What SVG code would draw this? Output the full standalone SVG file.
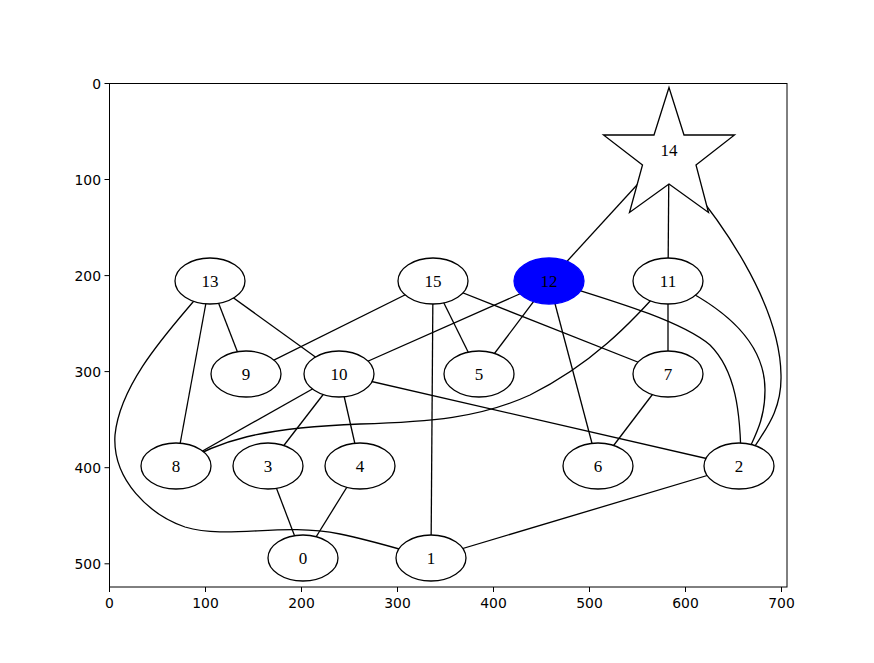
<svg xmlns="http://www.w3.org/2000/svg" width="874" height="663" viewBox="0 0 874 663">
<style>
.e{fill:none;stroke:#000;stroke-width:1.3}
.n{fill:#fff;stroke:#000;stroke-width:1.3}
.t{font-family:"Liberation Serif","Times New Roman",serif;font-size:17px;text-anchor:middle;fill:#000}
.ax{fill:none;stroke:#000;stroke-width:1}
.tk{stroke:#000;stroke-width:1}
.tl{font-family:"DejaVu Sans",sans-serif;font-size:13.9px;fill:#000}
</style>
<rect width="874" height="663" fill="#fff"/>
<g id="axes">
<rect class="ax" x="109.5" y="83.5" width="677.5" height="503.5"/>
<g id="xticks">
<line class="tk" x1="109.5" y1="587" x2="109.5" y2="592"/>
<line class="tk" x1="205.5" y1="587" x2="205.5" y2="592"/>
<line class="tk" x1="301.5" y1="587" x2="301.5" y2="592"/>
<line class="tk" x1="397.5" y1="587" x2="397.5" y2="592"/>
<line class="tk" x1="493.5" y1="587" x2="493.5" y2="592"/>
<line class="tk" x1="589.5" y1="587" x2="589.5" y2="592"/>
<line class="tk" x1="685.5" y1="587" x2="685.5" y2="592"/>
<line class="tk" x1="781.5" y1="587" x2="781.5" y2="592"/>
<g class="tl" text-anchor="middle">
<text x="109.5" y="608">0</text>
<text x="205.5" y="608">100</text>
<text x="301.5" y="608">200</text>
<text x="397.5" y="608">300</text>
<text x="493.5" y="608">400</text>
<text x="589.5" y="608">500</text>
<text x="685.5" y="608">600</text>
<text x="781.5" y="608">700</text>
</g>
</g>
<g id="yticks">
<line class="tk" x1="104.5" y1="83.5" x2="109.5" y2="83.5"/>
<line class="tk" x1="104.5" y1="179.5" x2="109.5" y2="179.5"/>
<line class="tk" x1="104.5" y1="275.6" x2="109.5" y2="275.6"/>
<line class="tk" x1="104.5" y1="371.6" x2="109.5" y2="371.6"/>
<line class="tk" x1="104.5" y1="467.7" x2="109.5" y2="467.7"/>
<line class="tk" x1="104.5" y1="563.8" x2="109.5" y2="563.8"/>
<g class="tl" text-anchor="end">
<text x="101" y="88.5">0</text>
<text x="101" y="184.5">100</text>
<text x="101" y="280.6">200</text>
<text x="101" y="376.6">300</text>
<text x="101" y="472.7">400</text>
<text x="101" y="568.8">500</text>
</g>
</g>
</g>
<g id="edges">
<line class="e" x1="669" y1="150" x2="549" y2="281"/>
<line class="e" x1="669" y1="150" x2="668" y2="281"/>
<path class="e" d="M690 185 C715 215,780 300,781 375 C782 410,765 430,755 446 L739 466"/>
<line class="e" x1="210" y1="281" x2="246" y2="374"/>
<line class="e" x1="210" y1="281" x2="339" y2="374"/>
<line class="e" x1="210" y1="281" x2="176" y2="466"/>
<path class="e" d="M210 281 L193 302 C165 335,120 385,115 435 C112 480,150 515,185 527 C230 540,280 522,340 534 C370 540,395 548,431 558"/>
<path class="e" d="M176 466 C220 440,260 428,360 424 C430 422,480 418,530 395 C590 365,630 325,668 281"/>
<line class="e" x1="339" y1="374" x2="176" y2="466"/>
<line class="e" x1="339" y1="374" x2="268" y2="466"/>
<line class="e" x1="339" y1="374" x2="360" y2="466"/>
<line class="e" x1="339" y1="374" x2="739" y2="466"/>
<line class="e" x1="339" y1="374" x2="549" y2="281"/>
<line class="e" x1="433" y1="281" x2="246" y2="374"/>
<line class="e" x1="433" y1="281" x2="479" y2="374"/>
<line class="e" x1="433" y1="281" x2="668" y2="374"/>
<line class="e" x1="433" y1="281" x2="431" y2="558"/>
<line class="e" x1="549" y1="281" x2="479" y2="374"/>
<line class="e" x1="549" y1="281" x2="598" y2="466"/>
<path class="e" d="M549 281 C610 300,680 320,710 345 C735 370,741 410,741 466"/>
<line class="e" x1="668" y1="281" x2="668" y2="374"/>
<path class="e" d="M668 281 C720 305,765 340,765 390 C765 415,758 430,751 445 L739 466"/>
<line class="e" x1="668" y1="374" x2="598" y2="466"/>
<line class="e" x1="268" y1="466" x2="303" y2="558"/>
<line class="e" x1="360" y1="466" x2="303" y2="558"/>
<line class="e" x1="431" y1="558" x2="739" y2="466"/>
</g>
<g id="node14"><polygon class="n" points="669,87.5 684,135 734.5,135 696,165 708.5,212.5 669,184 629.5,212.5 642.5,165 603.5,135 654,135"/><text class="t" x="669" y="156">14</text></g>
<g id="node13"><ellipse class="n" cx="210" cy="281" rx="35" ry="23"/><text class="t" x="210" y="287">13</text></g>
<g id="node15"><ellipse class="n" cx="433" cy="281" rx="35" ry="23"/><text class="t" x="433" y="287">15</text></g>
<g id="node12"><ellipse cx="549" cy="281" rx="35" ry="23" fill="#0000ff" stroke="#0000ff" stroke-width="1.3"/><text class="t" x="549" y="287">12</text></g>
<g id="node11"><ellipse class="n" cx="668" cy="281" rx="35" ry="23"/><text class="t" x="668" y="287">11</text></g>
<g id="node9"><ellipse class="n" cx="246" cy="374" rx="35" ry="23"/><text class="t" x="246" y="380">9</text></g>
<g id="node10"><ellipse class="n" cx="339" cy="374" rx="35" ry="23"/><text class="t" x="339" y="380">10</text></g>
<g id="node5"><ellipse class="n" cx="479" cy="374" rx="35" ry="23"/><text class="t" x="479" y="380">5</text></g>
<g id="node7"><ellipse class="n" cx="668" cy="374" rx="35" ry="23"/><text class="t" x="668" y="380">7</text></g>
<g id="node8"><ellipse class="n" cx="176" cy="466" rx="35" ry="23"/><text class="t" x="176" y="472">8</text></g>
<g id="node3"><ellipse class="n" cx="268" cy="466" rx="35" ry="23"/><text class="t" x="268" y="472">3</text></g>
<g id="node4"><ellipse class="n" cx="360" cy="466" rx="35" ry="23"/><text class="t" x="360" y="472">4</text></g>
<g id="node6"><ellipse class="n" cx="598" cy="466" rx="35" ry="23"/><text class="t" x="598" y="472">6</text></g>
<g id="node2"><ellipse class="n" cx="739" cy="466" rx="35" ry="23"/><text class="t" x="739" y="472">2</text></g>
<g id="node0"><ellipse class="n" cx="303" cy="558" rx="35" ry="23"/><text class="t" x="303" y="564">0</text></g>
<g id="node1"><ellipse class="n" cx="431" cy="558" rx="35" ry="23"/><text class="t" x="431" y="564">1</text></g>
</svg>
